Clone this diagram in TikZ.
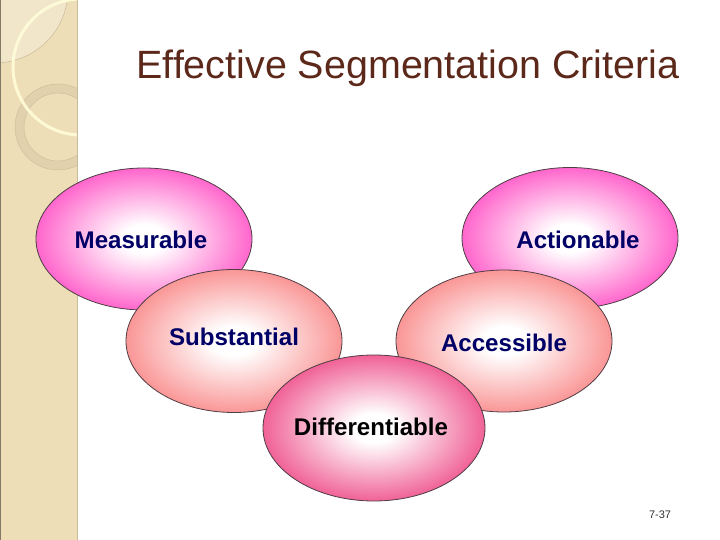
\documentclass[tikz,border=0pt]{standalone}
\usepackage{fontspec}
\setmainfont{Liberation Sans}
\usepackage{xcolor}
\usepackage{tikz}
\usetikzlibrary{shapes.geometric}

\definecolor{titlebrown}{RGB}{92,40,26}
\definecolor{labelnavy}{RGB}{0,0,102}
\definecolor{magblob}{RGB}{255,102,204}
\definecolor{salblob}{RGB}{250,150,150}
\definecolor{roseblob}{RGB}{240,98,150}
\definecolor{stripfill}{RGB}{238,222,184}
\definecolor{stripedge}{RGB}{200,186,154}
\definecolor{ringfill}{RGB}{222,206,170}
\colorlet{blobout}{white}
\pgfdeclareradialshading[blobout]{blob}{\pgfpoint{0bp}{0bp}}{color(0bp)=(white);color(5bp)=(white);color(25bp)=(blobout);color(50bp)=(blobout)}

\tikzset{
  blob/.style={ellipse,draw=black!80!magenta,line width=0.8bp,shading=blob,inner sep=0pt},
  lbl/.style={font=\fontsize{24.2}{28}\selectfont\bfseries}
}

\begin{document}
\begin{tikzpicture}[x=1bp,y=-1bp]
\useasboundingbox (0,0) rectangle (720,540);
% side strip
\fill[stripfill] (0,0) rectangle (78,540);
\begin{scope}
  \clip (0,0) rectangle (77,540);
  \fill[white!25!stripfill,draw=stripedge,line width=0.5bp] (-5,-10) circle (73);
  \fill[ringfill,opacity=0.8,even odd rule,draw=stripedge,line width=0.5bp] (58,127) circle (43) (58,127) circle (34);
  \draw[white!85!yellow,line width=3bp,opacity=0.9] (81,67) circle (68);
\end{scope}
\draw[stripedge,line width=1.5bp] (77.5,0)--(77.5,540);
\draw[black!45!stripfill,line width=1bp] (0.5,0)--(0.5,540);

% title
\node[text=titlebrown,font=\fontsize{39.6}{44}\selectfont] (title) at (408,68) {Effective Segmentation Criteria};

% the five criteria, back to front
\foreach \nm/\cx/\cy/\w/\h/\fillc/\txtc/\lx/\ly/\txt in {
    meas/144/239/216/142/magblob/labelnavy/141/240/Measurable,
    act/570/238/216/141/magblob/labelnavy/578/240/Actionable,
    subst/234/341/216/143/salblob/labelnavy/234/337/Substantial,
    acc/504/341/216/142/salblob/labelnavy/504/343/Accessible,
    diff/374/428/222/146/roseblob/black/371/427/Differentiable}
{
  \colorlet{blobout}{\fillc}
  \node[blob,minimum width=\w bp,minimum height=\h bp] (\nm) at (\cx,\cy) {};
  \node[lbl,text=\txtc] (\nm-t) at (\lx,\ly) {\txt};
}

% slide number
\node[font=\fontsize{11}{13}\selectfont,text=black!80] (pg) at (660,515) {7-37};
\end{tikzpicture}
\end{document}
